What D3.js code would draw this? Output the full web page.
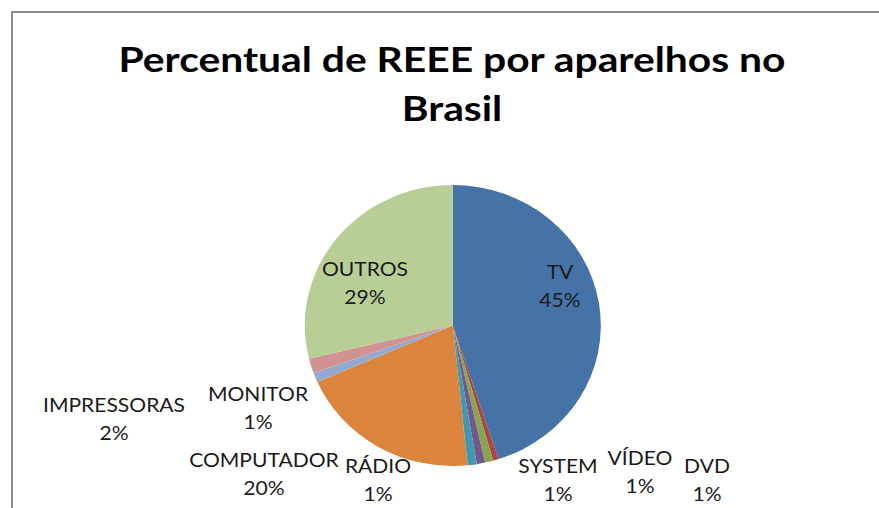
<!DOCTYPE html>
<html>
<head>
<meta charset="utf-8">
<script src="https://cdn.jsdelivr.net/npm/d3@7"></script>
<style>
  html, body { margin: 0; padding: 0; background: #fff; }
  svg { display: block; }
</style>
</head>
<body>
<div id="chart"></div>
<script>
// chart data (percent share of each appliance)
var categories = ["TV", "DVD", "VÍDEO", "SYSTEM", "RÁDIO", "COMPUTADOR", "MONITOR", "IMPRESSORAS", "OUTROS"];
var values = [45.0, 0.6, 0.9, 0.9, 1.0, 20.0, 1.1, 1.7, 28.8];
var colours = ["#4572A7", "#AA4643", "#89A54E", "#71588F", "#4198AF", "#DB843D", "#93A9CF", "#D19392", "#B9CD96"];
var titleLines = ["Percentual de REEE por aparelhos no", "Brasil"];

// label anchor spots (centre x, first baseline y), same order as categories
var labelSpots = [[560, 279], [707, 473], [640, 465], [558, 473], [378, 473], [264, 467], [258, 401], [114, 412], [365, 276]];

var width = 879,
  height = 508;

var svg = d3.select("#chart")
  .append("svg")
  .attr("width", width)
  .attr("height", height);

// chart area frame (only left and top edges fall inside the picture)
svg.append("path")
  .attr("d", "M12,508 L12,12 L879,12")
  .attr("fill", "none")
  .attr("stroke", "#8c8c8c")
  .attr("stroke-width", 2);

// pie geometry - the original is slightly stretched sideways
var cx = 452.8,
  cy = 325.5,
  ry = 140.5,
  rx = 148;

var pie = d3.pie().sort(null).value(function (d) { return d; });
var arcs = pie(values);
var arc = d3.arc().innerRadius(0).outerRadius(ry);

var pieG = svg.append("g")
  .attr("transform", "translate(" + cx + "," + cy + ") scale(" + (rx / ry) + ",1)");

pieG.selectAll("path")
  .data(arcs)
  .enter()
  .append("path")
  .attr("d", arc)
  .attr("fill", function (d, i) { return colours[i]; });

// title
var title = svg.append("g")
  .attr("font-family", "Lato, 'Open Sans', sans-serif")
  .attr("font-weight", "bold")
  .attr("font-size", 35)
  .attr("fill", "#000")
  .attr("text-anchor", "middle");

var t1 = title.append("text").attr("x", 452).attr("y", 72).text(titleLines[0]);
var t2 = title.append("text").attr("x", 452).attr("y", 121).text(titleLines[1]);

// squeeze title to the width it has in the original
var squeeze = 667 / t1.node().getComputedTextLength();
t1.attr("textLength", 667).attr("lengthAdjust", "spacingAndGlyphs");
t2.attr("textLength", t2.node().getComputedTextLength() * squeeze).attr("lengthAdjust", "spacingAndGlyphs");

// data labels: name + rounded percent
var total = d3.sum(values);
var labels = svg.append("g")
  .attr("font-family", "Lato, 'Open Sans', sans-serif")
  .attr("font-size", 19)
  .attr("fill", "#1a1a1a")
  .attr("text-anchor", "middle");

var labelSqueeze = null;
categories.forEach(function (name, i) {
  var pct = Math.round(values[i] / total * 100) + "%";
  var a = labels.append("text").attr("x", labelSpots[i][0]).attr("y", labelSpots[i][1]).text(name);
  var b = labels.append("text").attr("x", labelSpots[i][0]).attr("y", labelSpots[i][1] + 28).text(pct);
  if (labelSqueeze === null) {
    // IMPRESSORAS is 142px wide in the original; use it for the ratio below
    var probe = labels.append("text").text("IMPRESSORAS");
    labelSqueeze = 142 / probe.node().getComputedTextLength();
    probe.remove();
  }
  [a, b].forEach(function (t) {
    t.attr("textLength", t.node().getComputedTextLength() * labelSqueeze)
      .attr("lengthAdjust", "spacingAndGlyphs");
  });
});
</script>
</body>
</html>
